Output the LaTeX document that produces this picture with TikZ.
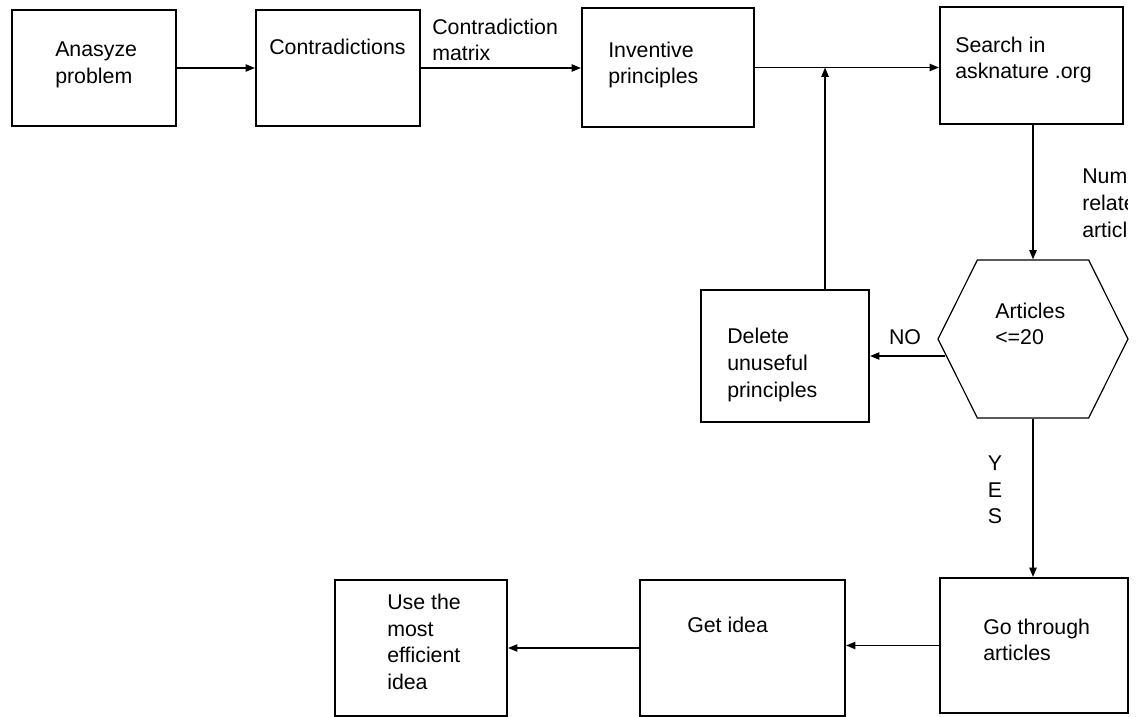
\documentclass[tikz,border=0pt]{standalone}
\usepackage{fontspec}
\setmainfont{Liberation Sans}
\usetikzlibrary{arrows.meta,calc,shapes.symbols}

\begin{document}
\begin{tikzpicture}[x=0.75pt, y=-0.75pt,
    stepbox/.style ={draw, line width=1.6pt, inner sep=0pt},
    steptext/.style ={align=left, inner sep=0pt, anchor=west, font=\fontsize{16}{20}\selectfont},
    decision/.style ={signal, signal to=west and east, signal pointer angle=127, draw, line width=0.9pt, inner sep=0pt},
    flow/.style ={line width=1.1pt, -{Triangle[length=7pt, width=5.5pt]}}]
   \useasboundingbox (0,0) rectangle (1147,717);
   % boxes
   \node[stepbox, minimum width=123pt, minimum height=87pt] (ana) at (94,68) {};
   \node[stepbox, minimum width=123pt, minimum height=87pt] (contra) at (338,68) {};
   \node[stepbox, minimum width=129pt, minimum height=89.25pt] (inv) at (668,67.5) {};
   \node[stepbox, minimum width=137.25pt, minimum height=87.75pt] (search) at (1031.5,65.5) {};
   \node[stepbox, minimum width=126pt, minimum height=99pt] (del) at (785,356) {};
   \node[decision, minimum width=142.5pt, minimum height=118.5pt] (hex) at (1033,339) {};
   \node[stepbox, minimum width=129pt, minimum height=102pt] (use) at (421,648) {};
   \node[stepbox, minimum width=153.75pt, minimum height=102pt] (get) at (742.5,648) {};
   \node[stepbox, minimum width=141pt, minimum height=101.25pt] (go) at (1034,645.5) {};
   % texts
   \node[steptext] (anatext) at (55,65) {Anasyze\\problem};
   \node[steptext] (contratext) at (269,47) {Contradictions};
   \node[steptext] (matrix) at (432,40) {Contradiction\\matrix};
   \node[steptext] (invtext) at (608,65) {Inventive\\principles};
   \node[steptext] (searchtext) at (955,60) {Search in\\asknature .org};
   \node[steptext] (deltext) at (727,365) {Delete\\unuseful\\principles};
   \node[steptext] (hextext) at (995,324) {Articles\\<=20};
   \node[steptext] (usetext) at (387,642) {Use the\\most\\efficient\\idea};
   \node[steptext] (gettext) at (687,625) {Get idea};
   \node[steptext] (gotext) at (983,640) {Go through\\articles};
   \node[steptext, anchor=center] (no) at (905,337) {NO};
   \node[steptext, align=center, anchor=center] (yes) at (995,490) {Y\\E\\S};
   \begin{scope}
      \clip (1070,150) rectangle (1127,250);
      \node[steptext] (num) at (1082,203) {Number of\\related\\articles};
   \end{scope}
   % connectors
   \draw[flow] (ana) -- (contra);
   \draw[flow] (contra.east) -- (contra.east -| inv.west);
   \draw[flow] (inv.east) -- (inv.east -| search.west);
   \coordinate (joint) at ($(inv.east)+(70,0)$);
   \draw[flow] (del.north -| joint) -- (joint);
   \draw[flow] (search.south -| hex.north) -- (hex.north);
   \draw[flow] ($(del.east -| hex.west)+(8,0)$) -- (del.east);
   \draw[flow] (hex.south) -- (hex.south |- go.north);
   \draw[flow] (go.west) -- (go.west -| get.east);
   \draw[flow] (get.west) -- (get.west -| use.east);
 \end{tikzpicture}
\end{document}
